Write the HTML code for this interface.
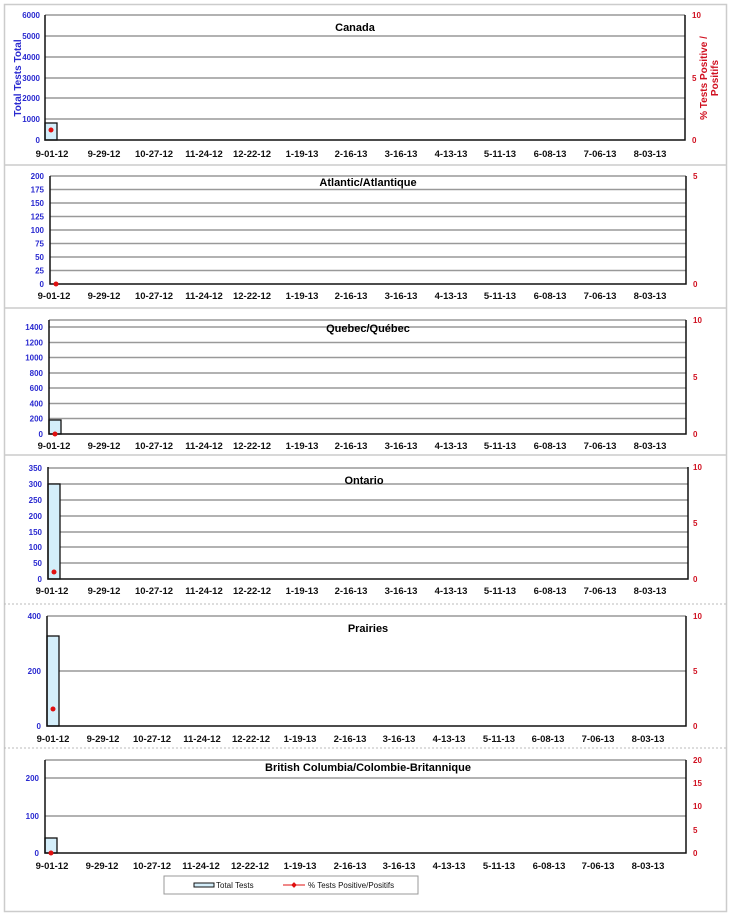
<!DOCTYPE html>
<html><head><meta charset="utf-8"><style>
html,body{margin:0;padding:0;background:#fff}
svg{display:block}
.yl{font:bold 8px "Liberation Sans",sans-serif;fill:#2a2ad0;text-anchor:end}
.yr{font:bold 8px "Liberation Sans",sans-serif;fill:#d01020}
.xl{font:bold 9.5px "Liberation Sans",sans-serif;fill:#111;text-anchor:middle}
.tt{font:bold 11px "Liberation Sans",sans-serif;fill:#000;text-anchor:middle}
.g{stroke:#999;stroke-width:1.5}
.ax{stroke:#111;stroke-width:1.5;fill:none}
.bar{fill:#d4eefa;stroke:#111;stroke-width:1.3}
.sep{stroke:#ccc;stroke-width:1.5}
</style></head><body>
<svg width="730" height="915" viewBox="0 0 730 915" xmlns="http://www.w3.org/2000/svg">
<rect x="4.5" y="4.5" width="722" height="907" fill="none" stroke="#ccc" stroke-width="1.5"/>
<line class="sep" x1="4" y1="165" x2="727" y2="165"/>
<line class="sep" x1="4" y1="308" x2="727" y2="308"/>
<line class="sep" x1="4" y1="455" x2="727" y2="455"/>
<line x1="4" y1="604" x2="727" y2="604" stroke="#bbb" stroke-dasharray="2,2"/>
<line x1="4" y1="748" x2="727" y2="748" stroke="#bbb" stroke-dasharray="2,2"/>

<!-- Panel 1 Canada -->
<g>
<line class="g" x1="45" y1="15" x2="685" y2="15"/><line class="g" x1="45" y1="36" x2="685" y2="36"/><line class="g" x1="45" y1="57" x2="685" y2="57"/><line class="g" x1="45" y1="78" x2="685" y2="78"/><line class="g" x1="45" y1="98" x2="685" y2="98"/><line class="g" x1="45" y1="119" x2="685" y2="119"/>
<rect class="bar" x="45" y="123" width="12" height="17"/>
<path class="ax" d="M45,15V140H685V15"/>
<circle cx="51" cy="130" r="2.5" fill="#e01010"/>
<text class="tt" x="355" y="31">Canada</text>
<text class="yl" x="40" y="18">6000</text><text class="yl" x="40" y="39">5000</text><text class="yl" x="40" y="60">4000</text><text class="yl" x="40" y="81">3000</text><text class="yl" x="40" y="101">2000</text><text class="yl" x="40" y="122">1000</text><text class="yl" x="40" y="143">0</text>
<text transform="translate(21,78) rotate(-90)" style="font:bold 10px 'Liberation Sans',sans-serif;fill:#2a2ad0;text-anchor:middle">Total Tests Total</text>
<text class="yr" x="692" y="18">10</text><text class="yr" x="692" y="81">5</text><text class="yr" x="692" y="143">0</text>
<text transform="translate(707,78) rotate(-90)" style="font:bold 10px 'Liberation Sans',sans-serif;fill:#d01020;text-anchor:middle">% Tests Positive /</text>
<text transform="translate(718,78) rotate(-90)" style="font:bold 10px 'Liberation Sans',sans-serif;fill:#d01020;text-anchor:middle">Positifs</text>
<g class="xl"><text class="xl" x="52" y="157">9-01-12</text><text class="xl" x="104" y="157">9-29-12</text><text class="xl" x="154" y="157">10-27-12</text><text class="xl" x="204" y="157">11-24-12</text><text class="xl" x="252" y="157">12-22-12</text><text class="xl" x="302" y="157">1-19-13</text><text class="xl" x="351" y="157">2-16-13</text><text class="xl" x="401" y="157">3-16-13</text><text class="xl" x="451" y="157">4-13-13</text><text class="xl" x="500" y="157">5-11-13</text><text class="xl" x="550" y="157">6-08-13</text><text class="xl" x="600" y="157">7-06-13</text><text class="xl" x="650" y="157">8-03-13</text></g>
</g>

<!-- Panel 2 Atlantic -->
<g>
<line class="g" x1="50" y1="176" x2="686" y2="176"/><line class="g" x1="50" y1="189.5" x2="686" y2="189.5"/><line class="g" x1="50" y1="203" x2="686" y2="203"/><line class="g" x1="50" y1="216.5" x2="686" y2="216.5"/><line class="g" x1="50" y1="230" x2="686" y2="230"/><line class="g" x1="50" y1="243.5" x2="686" y2="243.5"/><line class="g" x1="50" y1="257" x2="686" y2="257"/><line class="g" x1="50" y1="270.5" x2="686" y2="270.5"/>
<path class="ax" d="M50,176V284H686V176"/>
<circle cx="56" cy="284" r="2.5" fill="#e01010"/>
<text class="tt" x="368" y="186">Atlantic/Atlantique</text>
<text class="yl" x="44" y="179">200</text><text class="yl" x="44" y="192.5">175</text><text class="yl" x="44" y="206">150</text><text class="yl" x="44" y="219.5">125</text><text class="yl" x="44" y="233">100</text><text class="yl" x="44" y="246.5">75</text><text class="yl" x="44" y="260">50</text><text class="yl" x="44" y="273.5">25</text><text class="yl" x="44" y="287">0</text>
<text class="yr" x="693" y="179">5</text><text class="yr" x="693" y="287">0</text>
<text class="xl" x="54" y="299">9-01-12</text><text class="xl" x="104" y="299">9-29-12</text><text class="xl" x="154" y="299">10-27-12</text><text class="xl" x="204" y="299">11-24-12</text><text class="xl" x="252" y="299">12-22-12</text><text class="xl" x="302" y="299">1-19-13</text><text class="xl" x="351" y="299">2-16-13</text><text class="xl" x="401" y="299">3-16-13</text><text class="xl" x="451" y="299">4-13-13</text><text class="xl" x="500" y="299">5-11-13</text><text class="xl" x="550" y="299">6-08-13</text><text class="xl" x="600" y="299">7-06-13</text><text class="xl" x="650" y="299">8-03-13</text>
</g>

<!-- Panel 3 Quebec -->
<g>
<line class="g" x1="49" y1="320" x2="686" y2="320"/><line class="g" x1="49" y1="327" x2="686" y2="327"/><line class="g" x1="49" y1="342.5" x2="686" y2="342.5"/><line class="g" x1="49" y1="357.5" x2="686" y2="357.5"/><line class="g" x1="49" y1="373" x2="686" y2="373"/><line class="g" x1="49" y1="388" x2="686" y2="388"/><line class="g" x1="49" y1="403.5" x2="686" y2="403.5"/><line class="g" x1="49" y1="418.5" x2="686" y2="418.5"/>
<rect class="bar" x="49" y="420" width="12" height="14"/>
<path class="ax" d="M49,320V434H686V320"/>
<circle cx="55" cy="434" r="2.5" fill="#e01010"/>
<text class="tt" x="368" y="332">Quebec/Québec</text>
<text class="yl" x="43" y="330">1400</text><text class="yl" x="43" y="345.5">1200</text><text class="yl" x="43" y="360.5">1000</text><text class="yl" x="43" y="376">800</text><text class="yl" x="43" y="391">600</text><text class="yl" x="43" y="406.5">400</text><text class="yl" x="43" y="421.5">200</text><text class="yl" x="43" y="437">0</text>
<text class="yr" x="693" y="323">10</text><text class="yr" x="693" y="380">5</text><text class="yr" x="693" y="437">0</text>
<text class="xl" x="54" y="449">9-01-12</text><text class="xl" x="104" y="449">9-29-12</text><text class="xl" x="154" y="449">10-27-12</text><text class="xl" x="204" y="449">11-24-12</text><text class="xl" x="252" y="449">12-22-12</text><text class="xl" x="302" y="449">1-19-13</text><text class="xl" x="351" y="449">2-16-13</text><text class="xl" x="401" y="449">3-16-13</text><text class="xl" x="451" y="449">4-13-13</text><text class="xl" x="500" y="449">5-11-13</text><text class="xl" x="550" y="449">6-08-13</text><text class="xl" x="600" y="449">7-06-13</text><text class="xl" x="650" y="449">8-03-13</text>
</g>

<!-- Panel 4 Ontario -->
<g>
<line class="g" x1="48" y1="468" x2="688" y2="468"/><line class="g" x1="48" y1="484" x2="688" y2="484"/><line class="g" x1="48" y1="500" x2="688" y2="500"/><line class="g" x1="48" y1="516" x2="688" y2="516"/><line class="g" x1="48" y1="532" x2="688" y2="532"/><line class="g" x1="48" y1="547" x2="688" y2="547"/><line class="g" x1="48" y1="563" x2="688" y2="563"/>
<rect class="bar" x="48" y="484" width="12" height="95"/>
<path class="ax" d="M48,467V579H688V467"/>
<circle cx="54" cy="572" r="2.5" fill="#e01010"/>
<text class="tt" x="364" y="484">Ontario</text>
<text class="yl" x="42" y="471">350</text><text class="yl" x="42" y="487">300</text><text class="yl" x="42" y="503">250</text><text class="yl" x="42" y="519">200</text><text class="yl" x="42" y="535">150</text><text class="yl" x="42" y="550">100</text><text class="yl" x="42" y="566">50</text><text class="yl" x="42" y="582">0</text>
<text class="yr" x="693" y="470">10</text><text class="yr" x="693" y="526">5</text><text class="yr" x="693" y="582">0</text>
<text class="xl" x="52" y="594">9-01-12</text><text class="xl" x="104" y="594">9-29-12</text><text class="xl" x="154" y="594">10-27-12</text><text class="xl" x="204" y="594">11-24-12</text><text class="xl" x="252" y="594">12-22-12</text><text class="xl" x="302" y="594">1-19-13</text><text class="xl" x="351" y="594">2-16-13</text><text class="xl" x="401" y="594">3-16-13</text><text class="xl" x="451" y="594">4-13-13</text><text class="xl" x="500" y="594">5-11-13</text><text class="xl" x="550" y="594">6-08-13</text><text class="xl" x="600" y="594">7-06-13</text><text class="xl" x="650" y="594">8-03-13</text>
</g>

<!-- Panel 5 Prairies -->
<g>
<line class="g" x1="47" y1="616" x2="686" y2="616"/><line class="g" x1="47" y1="671" x2="686" y2="671"/>
<rect class="bar" x="47" y="636" width="12" height="90"/>
<path class="ax" d="M47,616V726H686V616"/>
<circle cx="53" cy="709" r="2.5" fill="#e01010"/>
<text class="tt" x="368" y="632">Prairies</text>
<text class="yl" x="41" y="619">400</text><text class="yl" x="41" y="674">200</text><text class="yl" x="41" y="729">0</text>
<text class="yr" x="693" y="619">10</text><text class="yr" x="693" y="674">5</text><text class="yr" x="693" y="729">0</text>
<text class="xl" x="53" y="742">9-01-12</text><text class="xl" x="103" y="742">9-29-12</text><text class="xl" x="152" y="742">10-27-12</text><text class="xl" x="202" y="742">11-24-12</text><text class="xl" x="251" y="742">12-22-12</text><text class="xl" x="300" y="742">1-19-13</text><text class="xl" x="350" y="742">2-16-13</text><text class="xl" x="399" y="742">3-16-13</text><text class="xl" x="449" y="742">4-13-13</text><text class="xl" x="499" y="742">5-11-13</text><text class="xl" x="548" y="742">6-08-13</text><text class="xl" x="598" y="742">7-06-13</text><text class="xl" x="648" y="742">8-03-13</text>
</g>

<!-- Panel 6 BC -->
<g>
<line class="g" x1="45" y1="760" x2="686" y2="760"/><line class="g" x1="45" y1="778" x2="686" y2="778"/><line class="g" x1="45" y1="816" x2="686" y2="816"/>
<rect class="bar" x="45" y="838" width="12" height="15"/>
<path class="ax" d="M45,760V853H686V760"/>
<circle cx="51" cy="853" r="2.5" fill="#e01010"/>
<text class="tt" x="368" y="771">British Columbia/Colombie-Britannique</text>
<text class="yl" x="39" y="781">200</text><text class="yl" x="39" y="819">100</text><text class="yl" x="39" y="856">0</text>
<text class="yr" x="693" y="763">20</text><text class="yr" x="693" y="786">15</text><text class="yr" x="693" y="809">10</text><text class="yr" x="693" y="833">5</text><text class="yr" x="693" y="856">0</text>
<text class="xl" x="52" y="869">9-01-12</text><text class="xl" x="102" y="869">9-29-12</text><text class="xl" x="152" y="869">10-27-12</text><text class="xl" x="201" y="869">11-24-12</text><text class="xl" x="250" y="869">12-22-12</text><text class="xl" x="300" y="869">1-19-13</text><text class="xl" x="350" y="869">2-16-13</text><text class="xl" x="399" y="869">3-16-13</text><text class="xl" x="449" y="869">4-13-13</text><text class="xl" x="499" y="869">5-11-13</text><text class="xl" x="549" y="869">6-08-13</text><text class="xl" x="598" y="869">7-06-13</text><text class="xl" x="648" y="869">8-03-13</text>
</g>

<!-- Legend -->
<rect x="164" y="876" width="254" height="18" fill="#fff" stroke="#999"/>
<rect x="194" y="883" width="20" height="4" fill="#d4eefa" stroke="#111"/>
<text x="216" y="888" style="font:8px 'Liberation Sans',sans-serif;fill:#111">Total Tests</text>
<line x1="283" y1="885" x2="305" y2="885" stroke="#e01010"/>
<rect x="292" y="883" width="4" height="4" fill="#e01010" transform="rotate(45 294 885)"/>
<text x="308" y="888" style="font:8px 'Liberation Sans',sans-serif;fill:#111">% Tests Positive/Positifs</text>
</svg>
</body></html>
